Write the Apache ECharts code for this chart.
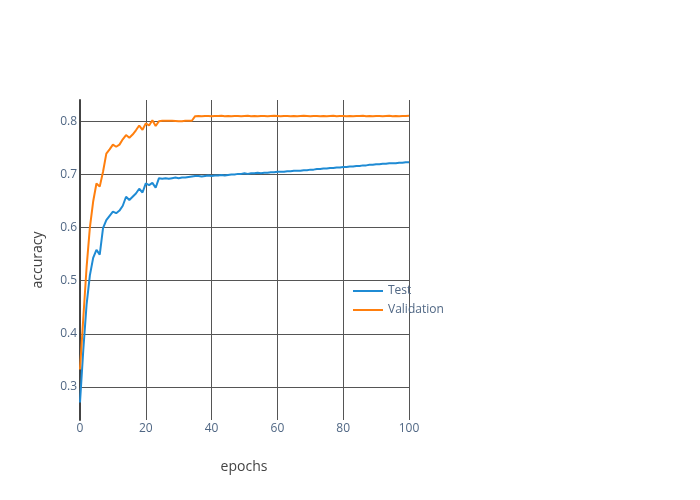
<!DOCTYPE html>
<html>
<head>
<meta charset="utf-8">
<script src="https://cdn.jsdelivr.net/npm/echarts@6/dist/echarts.min.js"></script>
<style>html,body{margin:0;padding:0;background:#fff}#c{width:700px;height:500px}</style>
</head>
<body>
<div id="c"></div>
<script>
const epochs = Array.from({length: 101}, (_, i) => i);
const testAcc = [
 0.271, 0.370, 0.455, 0.510, 0.543, 0.558, 0.549, 0.599, 0.614, 0.622,
 0.630, 0.627, 0.632, 0.641, 0.658, 0.652, 0.658, 0.664, 0.673, 0.666,
 0.683, 0.680, 0.684, 0.675, 0.693, 0.692, 0.693, 0.692, 0.693, 0.694,
 0.693, 0.694, 0.694, 0.695, 0.696, 0.697, 0.697, 0.696, 0.697, 0.698,
 0.697, 0.698, 0.698, 0.699, 0.698, 0.699, 0.700, 0.700, 0.701, 0.701,
 0.702, 0.701, 0.702, 0.702, 0.703, 0.702, 0.703, 0.703, 0.704, 0.704,
 0.705, 0.705, 0.705, 0.706, 0.706, 0.707, 0.707, 0.707, 0.708, 0.708,
 0.709, 0.709, 0.710, 0.710, 0.711, 0.711, 0.712, 0.712, 0.713, 0.713,
 0.714, 0.714, 0.715, 0.715, 0.716, 0.716, 0.717, 0.717, 0.718, 0.718,
 0.719, 0.719, 0.720, 0.720, 0.721, 0.721, 0.721, 0.722, 0.722, 0.723,
 0.723
];
const validationAcc = [
 0.333, 0.430, 0.525, 0.600, 0.649, 0.683, 0.677, 0.705, 0.739, 0.747,
 0.756, 0.752, 0.756, 0.766, 0.774, 0.769, 0.775, 0.783, 0.792, 0.784,
 0.796, 0.792, 0.802, 0.791, 0.800, 0.801, 0.801, 0.801, 0.801, 0.8005,
 0.800, 0.800, 0.801, 0.801, 0.801, 0.8095, 0.810, 0.8095, 0.810, 0.810,
 0.8095, 0.810, 0.810, 0.8105, 0.8095, 0.810, 0.8095, 0.810, 0.810, 0.8095,
 0.810, 0.8105, 0.8095, 0.810, 0.8095, 0.810, 0.810, 0.8095, 0.810, 0.8105,
 0.810, 0.8095, 0.810, 0.810, 0.8095, 0.810, 0.8095, 0.810, 0.8105, 0.810,
 0.8095, 0.810, 0.810, 0.8095, 0.810, 0.8095, 0.810, 0.8105, 0.8095, 0.810,
 0.810, 0.8095, 0.810, 0.8095, 0.810, 0.810, 0.8105, 0.8095, 0.810, 0.8095,
 0.810, 0.810, 0.8095, 0.810, 0.8105, 0.8095, 0.810, 0.8095, 0.810, 0.810,
 0.8105
];
const yTicks = [0.3, 0.4, 0.5, 0.6, 0.7, 0.8];
const seriesNames = ['Test', 'Validation'];

const chart = echarts.init(document.getElementById('c'), null, {renderer: 'canvas'});
const font = '"Open Sans", "Noto Sans", sans-serif';
chart.setOption({
  animation: false,
  backgroundColor: '#fff',
  textStyle: {fontFamily: font},
  grid: {left: 80, right: 291, top: 100, bottom: 80, containLabel: false},
  legend: {
    data: seriesNames,
    orient: 'vertical',
    left: 348,
    top: 280,
    icon: 'rect',
    itemWidth: 30,
    itemHeight: 2,
    itemGap: 7,
    textStyle: {color: '#506784', fontSize: 12, fontFamily: font}
  },
  xAxis: {
    type: 'value', min: 0, max: 100, interval: 20,
    axisLine: {show: false},
    axisTick: {show: false},
    axisLabel: {color: '#506784', fontSize: 12, margin: 3, fontFamily: font},
    splitLine: {show: true, lineStyle: {color: '#555', width: 1}}
  },
  yAxis: {
    type: 'value', min: 0.238, max: 0.84,
    axisLine: {show: true, onZero: false, lineStyle: {color: '#444', width: 2}},
    axisTick: {show: false, customValues: yTicks},
    axisLabel: {color: '#506784', fontSize: 12, margin: 3, fontFamily: font, customValues: yTicks,
      formatter: v => v.toFixed(1)},
    splitLine: {show: true, lineStyle: {color: '#555', width: 1}}
  },
  graphic: [
    {type: 'text', x: 244, y: 467, style: {text: 'epochs', fill: '#444', font: '14px ' + font, align: 'center', verticalAlign: 'middle'}},
    {type: 'text', rotation: Math.PI / 2, x: 38, y: 260, style: {text: 'accuracy', fill: '#444', font: '14px ' + font, align: 'center', verticalAlign: 'middle'}}
  ],
  series: [
    {name: seriesNames[0], type: 'line', showSymbol: false, symbol: 'none',
     data: epochs.map((e, i) => [e, testAcc[i]]),
     lineStyle: {color: '#1f8bd4', width: 2}, itemStyle: {color: '#1f8bd4'}},
    {name: seriesNames[1], type: 'line', showSymbol: false, symbol: 'none',
     data: epochs.map((e, i) => [e, validationAcc[i]]),
     lineStyle: {color: '#ff7f0e', width: 2}, itemStyle: {color: '#ff7f0e'}}
  ]
});
</script>
</body>
</html>
